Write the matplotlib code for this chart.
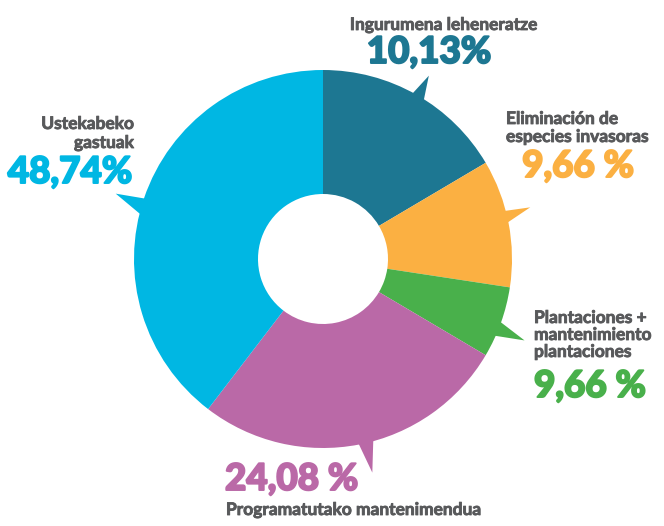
import numpy as np
from matplotlib import pyplot as plt
from matplotlib import patheffects as pe
from matplotlib.patches import Polygon

# slice sizes as drawn (measured from the wedge angles), and the printed labels
categories = ["Ingurumena leheneratze", "Eliminación de especies invasoras",
              "Plantaciones + mantenimiento plantaciones",
              "Programatutako mantenimendua", "Ustekabeko gastuak"]
slice_sizes = [16.5, 10.9, 6.1, 26.9, 39.6]
pct_labels = ["10,13%", "9,66 %", "9,66 %", "24,08 %", "48,74%"]
colors = ["#1d7792", "#fbb042", "#49b04b", "#ba69a7", "#00b7e3"]

W, H = 664, 526
CX, CY = 323, 259
R, R_IN = 189, 65
GRAY = "#58595b"

plt.rcParams['font.family'] = ['Lato', 'DejaVu Sans']

fig = plt.figure(figsize=(W / 100, H / 100), dpi=100)
ax = fig.add_axes([0, 0, 1, 1])
ax.set_xlim(0, W)
ax.set_ylim(0, H)
ax.axis("off")


def fy(y):
    return H - y


wedges, _ = ax.pie(slice_sizes, colors=colors, startangle=90, counterclock=False,
                   center=(CX, fy(CY)), radius=R,
                   wedgeprops=dict(width=R - R_IN, linewidth=0))
ax.set_xlim(0, W)
ax.set_ylim(0, H)
ax.set_aspect("equal")

# speech bubble pointers: (base angle 1, base angle 2, tip angle, tip radius)
pointers = [(62, 57, 60, 1.12), (15, 10.5, 14, 1.13), (-19, -24.5, -22, 1.15),
            (-79.5, -74, -77, 1.16), (161, 167, 162.5, 1.15)]
for (a1, a2, at, rt), c in zip(pointers, colors):
    pts = []
    for a, r in [(a1, R - 6), (at, R * rt), (a2, R - 6)]:
        t = np.radians(a)
        pts.append((CX + r * np.cos(t), fy(CY) + r * np.sin(t)))
    ax.add_patch(Polygon(pts, closed=True, color=c, lw=0))


def label(x, y, s, ha="left"):
    ax.text(x, fy(y), s, fontsize=12.5, fontweight="bold", color=GRAY,
            ha=ha, va="baseline",
            path_effects=[pe.withStroke(linewidth=0.6, foreground=GRAY)])


def number(x, y, s, c, ha="left"):
    ax.text(x, fy(y), s, fontsize=26.5, fontweight="black", color=c,
            ha=ha, va="baseline",
            path_effects=[pe.withStroke(linewidth=1.4, foreground=c)])


label(444, 30, categories[0], ha="center")
number(429, 63, pct_labels[0], colors[0], ha="center")

label(506, 124, "Eliminación de")
label(506, 142, "especies invasoras")
number(578, 177, pct_labels[1], colors[1], ha="center")

label(534, 323, "Plantaciones +")
label(534, 340, "mantenimiento")
label(534, 357, "plantaciones")
number(534, 397, pct_labels[2], colors[2])

number(225, 490, pct_labels[3], colors[3])
label(226, 515, categories[3])

label(134, 129, "Ustekabeko", ha="right")
label(134, 148, "gastuak", ha="right")
number(132, 183, pct_labels[4], colors[4], ha="right")

fig.savefig("out.png", dpi=100)
